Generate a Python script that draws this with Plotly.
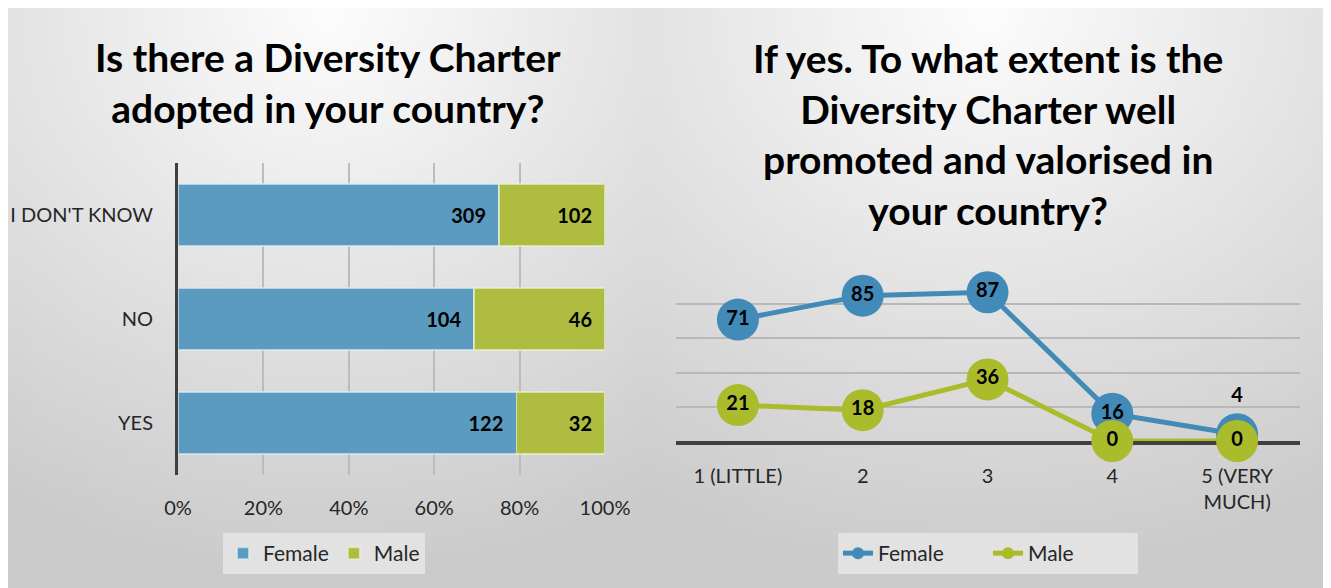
import base64
import struct
import zlib

import plotly.graph_objects as go

# the page body has an 8px margin, so keep the figure inside the window
W, H = 1315, 580
OFF = 8

# left chart: Is there a Diversity Charter adopted?
charter_answers = ["YES", "NO", "I DON'T KNOW"]
charter_female = [122, 104, 309]
charter_male = [32, 46, 102]
pct_ticks = [0, 20, 40, 60, 80, 100]
pct_labels = ["0%", "20%", "40%", "60%", "80%", "100%"]

# right chart: how well promoted / valorised
extent_levels = ["1 (LITTLE)", "2", "3", "4", "5 (VERY<br>MUCH)"]
extent_female = [71, 85, 87, 16, 4]
extent_male = [21, 18, 36, 0, 0]

BAR_F, BAR_M = "#5a9bbf", "#aebd40"
LINE_F, LINE_M = "#428bb8", "#aabb2b"
FONT = "Lato, 'Open Sans', sans-serif"
TXT = "#262626"


def gradient_png(w, h):
    # light at the top middle, greyer toward the edges and the bottom
    rows = []
    for j in range(h):
        dy = j / (h - 1)
        row = bytearray([0])
        for i in range(w):
            dx = i / (w - 1) - 0.5
            d = min(1.0, (dx * dx + dy * dy) ** 0.5)
            row.append(int(253 - 50 * d))
        rows.append(bytes(row))
    raw = b"".join(rows)

    def chunk(tag, data):
        return (struct.pack(">I", len(data)) + tag + data
                + struct.pack(">I", zlib.crc32(tag + data) & 0xffffffff))

    ihdr = struct.pack(">IIBBBBB", w, h, 8, 0, 0, 0, 0)
    png = (b"\x89PNG\r\n\x1a\n" + chunk(b"IHDR", ihdr)
           + chunk(b"IDAT", zlib.compress(raw)) + chunk(b"IEND", b""))
    return "data:image/png;base64," + base64.b64encode(png).decode()


bg = gradient_png(80, 60)


# reference pixel -> paper coordinate
def px(x):
    return (x - OFF) / W


def py(y):
    return 1 - (y - OFF) / H


label_font = dict(family=FONT, size=20, color="black", weight="bold")

fig = go.Figure()

fig.add_bar(
    y=charter_answers, x=charter_female, orientation="h", name="Female",
    marker=dict(color=BAR_F, line=dict(color="rgba(220,235,245,0.7)", width=1.5)),
    text=charter_female, texttemplate="%{text}\u2002", textposition="inside",
    insidetextanchor="end", textfont=label_font,
    xaxis="x", yaxis="y", legend="legend",
)
fig.add_bar(
    y=charter_answers, x=charter_male, orientation="h", name="Male",
    marker=dict(color=BAR_M, line=dict(color="rgba(235,240,210,0.7)", width=1.5)),
    text=charter_male, texttemplate="%{text}\u2002", textposition="inside",
    insidetextanchor="end", textfont=label_font,
    xaxis="x", yaxis="y", legend="legend",
)

label_pos_f = ["middle center"] * 4 + ["top center"]
fig.add_scatter(
    x=extent_levels, y=extent_female, mode="lines+markers+text", name="Female",
    line=dict(color=LINE_F, width=5), marker=dict(color=LINE_F, size=42),
    text=extent_female, textposition=label_pos_f, cliponaxis=False,
    textfont=label_font, xaxis="x2", yaxis="y2", legend="legend2",
)
fig.add_scatter(
    x=extent_levels, y=extent_male, mode="lines+markers+text", name="Male",
    line=dict(color=LINE_M, width=5), marker=dict(color=LINE_M, size=42),
    text=extent_male, textposition="middle center", cliponaxis=False,
    textfont=label_font, xaxis="x2", yaxis="y2", legend="legend2",
)

fig.update_layout(
    width=W, height=H, autosize=False,
    margin=dict(l=0, r=0, t=0, b=0),
    paper_bgcolor="white", plot_bgcolor="rgba(0,0,0,0)",
    font=dict(family=FONT, size=20, color=TXT),
    barmode="stack", barnorm="percent", bargap=0.4,
    xaxis=dict(
        domain=[px(178), px(605)], range=[0, 100], tickvals=pct_ticks,
        ticktext=pct_labels, showgrid=True, gridcolor="#bcbcbc", gridwidth=1.5,
        zeroline=False, showline=False, ticks="outside", ticklen=15,
        tickcolor="rgba(0,0,0,0)", anchor="y", fixedrange=True, automargin=False,
    ),
    yaxis=dict(
        domain=[py(475), py(163)], showgrid=False, showline=True,
        linecolor="#3f3f3f", linewidth=3, ticks="outside", ticklen=18,
        tickcolor="rgba(0,0,0,0)", anchor="x", fixedrange=True, automargin=False,
    ),
    xaxis2=dict(
        domain=[px(675.5), px(1299.5)], type="category", range=[-0.5, 4.5],
        showgrid=False, showline=True, linecolor="#404040", linewidth=3.5,
        layer="below traces", ticks="outside", ticklen=14,
        tickcolor="rgba(0,0,0,0)", anchor="y2", fixedrange=True, automargin=False,
    ),
    yaxis2=dict(
        domain=[py(441), py(270)], range=[0, 100], dtick=20,
        showticklabels=False, showgrid=True, gridcolor="#b8b8b8", gridwidth=1.5,
        zeroline=False, anchor="x2", fixedrange=True, automargin=False,
    ),
    legend=dict(
        orientation="h", x=px(223), y=py(533), xanchor="left", yanchor="top",
        bgcolor="#e2e2e2", font=dict(size=21, color=TXT), itemsizing="constant",
        traceorder="normal",
    ),
    legend2=dict(
        orientation="h", x=px(838), y=py(533), xanchor="left", yanchor="top",
        bgcolor="#e2e2e2", font=dict(size=21, color=TXT), itemsizing="constant",
        traceorder="normal", entrywidth=105,
    ),
    images=[
        dict(source=bg, xref="paper", yref="paper", x=0, y=1,
             sizex=px(649), sizey=1, xanchor="left", yanchor="top",
             sizing="stretch", layer="below"),
        dict(source=bg, xref="paper", yref="paper", x=px(649), y=1,
             sizex=1 - px(649), sizey=1, xanchor="left", yanchor="top",
             sizing="stretch", layer="below"),
    ],
    annotations=[
        dict(text="Is there a Diversity Charter<br>adopted in your country?",
             x=px(328), y=py(82), xref="paper", yref="paper", showarrow=False,
             xanchor="center", yanchor="middle",
             font=dict(family=FONT, size=39, color="black", weight="bold")),
        dict(text="If yes. To what extent is the<br>Diversity Charter well<br>"
                  "promoted and valorised in<br>your country?",
             x=px(988), y=py(134), xref="paper", yref="paper", showarrow=False,
             xanchor="center", yanchor="middle",
             font=dict(family=FONT, size=39, color="black", weight="bold")),
    ],
    showlegend=True,
)

fig.write_html("out.html")
